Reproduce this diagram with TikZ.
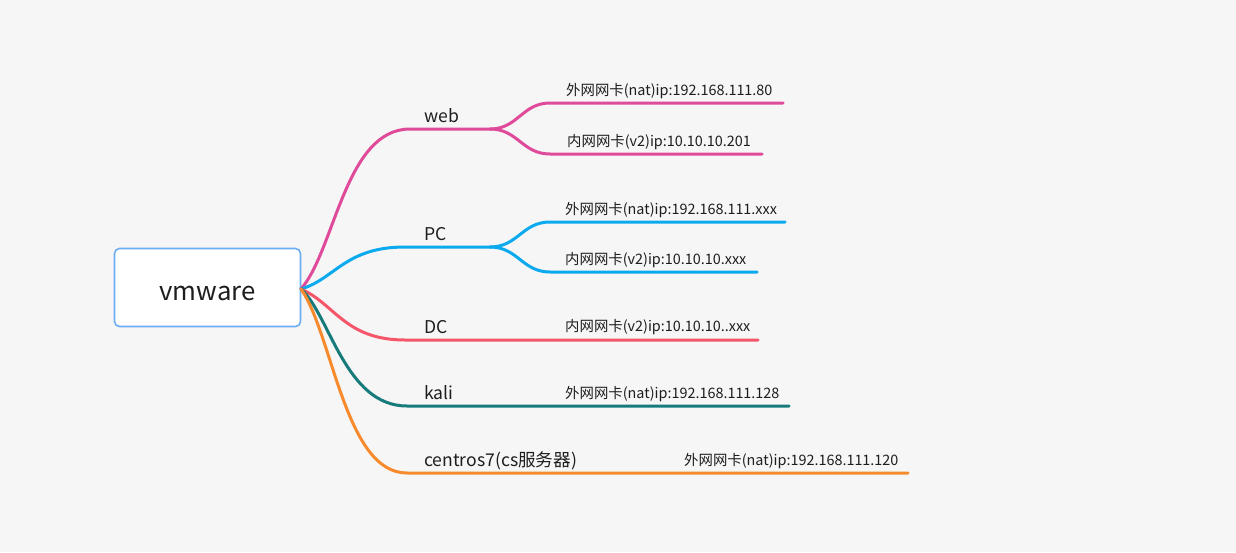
\documentclass[tikz,border=0pt]{standalone}
\usepackage{fontspec}
\setmainfont{Noto Sans CJK SC}
\definecolor{bg}{HTML}{F6F6F6}
\definecolor{txt}{HTML}{1E1E1E}
\definecolor{boxc}{HTML}{6DADF2}
\definecolor{cweb}{HTML}{E04A9B}
\definecolor{cpc}{HTML}{0BAAEF}
\definecolor{cdc}{HTML}{F5566A}
\definecolor{ckali}{HTML}{177A7B}
\definecolor{ccen}{HTML}{F78A2D}
\begin{document}
\begin{tikzpicture}[x=1pt,y=-1pt,
  br/.style={line width=3pt, line cap=round},
  lbl/.style={anchor=base west, inner sep=0, font=\fontsize{17.6}{17.6}\selectfont, text=txt},
  sub/.style={anchor=base west, inner sep=0, font=\fontsize{14.4}{14.4}\selectfont, text=txt}]
\fill[bg] (0,0) rectangle (1236,552);
\useasboundingbox (0,0) rectangle (1236,552);
% root
\node[draw=boxc, line width=1.6pt, fill=white, rounded corners=5pt,
      minimum width=186pt, minimum height=78pt, inner sep=0,
      font=\fontsize{25.8}{25.8}\selectfont, text=txt] (root) at (207.5,287.5) {\raisebox{-13pt}[0pt][0pt]{vmware}};
\coordinate (r) at (301,289);
% elbow coordinates
\coordinate (webA) at (410,129); \coordinate (webB) at (490,129);
\coordinate (pcA) at (405,247);  \coordinate (pcB) at (490,247);
\coordinate (dcA) at (405,340);
\coordinate (kaA) at (407,406);
\coordinate (ceA) at (407,473);
% child line ends
\coordinate (w1a) at (550,103); \coordinate (w1b) at (783,103);
\coordinate (w2a) at (550,154); \coordinate (w2b) at (762,154);
\coordinate (p1a) at (550,222); \coordinate (p1b) at (785,222);
\coordinate (p2a) at (550,272); \coordinate (p2b) at (757,272);
\coordinate (dcB) at (758,340);
\coordinate (kaB) at (789,406);
\coordinate (ceB) at (908,473);
% branches
\draw[br, cweb] (r) .. controls (335,250) and (345,129) .. (webA) -- (webB);
\draw[br, cweb] (webB) .. controls (518,129) and (522,103) .. (w1a) -- (w1b);
\draw[br, cweb] (webB) .. controls (518,129) and (522,154) .. (w2a) -- (w2b);
\draw[br, cpc] (r) .. controls (335,279) and (345,247) .. (pcA) -- (pcB);
\draw[br, cpc] (pcB) .. controls (518,247) and (522,222) .. (p1a) -- (p1b);
\draw[br, cpc] (pcB) .. controls (518,247) and (522,272) .. (p2a) -- (p2b);
\draw[br, cdc] (r) .. controls (335,304) and (345,340) .. (dcA) -- (dcB);
\draw[br, ckali] (r) .. controls (330,315) and (345,406) .. (kaA) -- (kaB);
\draw[br, ccen] (r) .. controls (333,335) and (345,473) .. (ceA) -- (ceB);
% labels
\node[lbl] (web) at (424,122) {web};
\node[sub] (web1) at (566,95) {外网网卡(nat)ip:192.168.111.80};
\node[sub] (web2) at (567,146) {内网网卡(v2)ip:10.10.10.201};
\node[lbl] (pc) at (424,240) {PC};
\node[sub] (pc1) at (565,214) {外网网卡(nat)ip:192.168.111.xxx};
\node[sub] (pc2) at (565,264) {内网网卡(v2)ip:10.10.10.xxx};
\node[lbl] (dc) at (424,333) {DC};
\node[sub] (dc1) at (565,331) {内网网卡(v2)ip:10.10.10..xxx};
\node[lbl] (kali) at (424,399) {kali};
\node[sub] (kali1) at (565,398) {外网网卡(nat)ip:192.168.111.128};
\node[lbl] (cen) at (424,466) {centros7(cs服务器)};
\node[sub] (cen1) at (684,465) {外网网卡(nat)ip:192.168.111.120};
\end{tikzpicture}
\end{document}
